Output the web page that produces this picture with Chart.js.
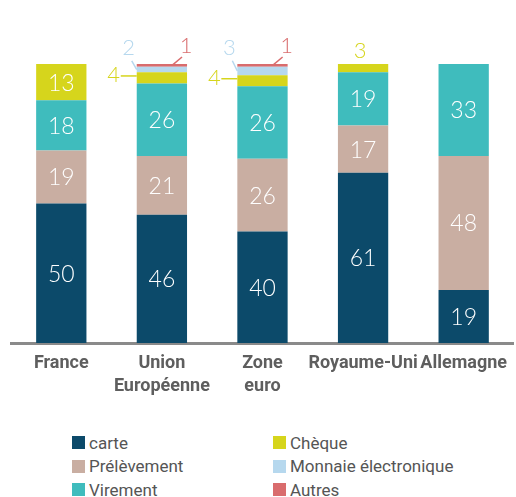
<!DOCTYPE html>
<html lang="fr">
<head>
<meta charset="utf-8">
<script src="https://cdn.jsdelivr.net/npm/chart.js@4.4.1/dist/chart.umd.min.js"></script>
<style>
  html, body { margin: 0; padding: 0; background: #fff; }
  #wrap { position: relative; width: 516px; height: 497px; overflow: hidden; }
  #chartBox { position: absolute; left: 0; top: 0; width: 516px; height: 400px; }
  #legend {
    position: absolute; left: 72px; top: 431px;
    display: grid; grid-template-columns: 201px 240px; grid-auto-flow: column;
    grid-template-rows: repeat(3, 23.5px);
    font-family: Roboto, "DejaVu Sans Condensed", sans-serif;
    font-size: 17px; color: #555;
  }
  #legend div { display: flex; align-items: center; white-space: nowrap; }
  #legend span.sw { width: 13px; height: 13px; margin-right: 4px; display: inline-block; }
</style>
</head>
<body>
<div id="wrap">
  <div id="chartBox"><canvas id="payChart"></canvas></div>
  <div id="legend"></div>
</div>
<script>
// ========================================
// Moyens de paiement scripturaux (%)
// ========================================

const categories = ['France', ['Union', 'Européenne'], ['Zone', 'euro'], 'Royaume-Uni', 'Allemagne'];

const carte       = [50, 46, 40, 61, 19];
const prelevement = [19, 21, 26, 17, 48];
const virement    = [18, 26, 26, 19, 33];
const cheque      = [13, 4, 4, 3, null];
const monnaieElec = [null, 2, 3, null, null];
const autres      = [null, 1, 1, null, null];

const seriesNames  = ['carte', 'Prélèvement', 'Virement', 'Chèque', 'Monnaie électronique', 'Autres'];
const seriesColors = ['#0c4a6a', '#c9aea2', '#3fbcbd', '#d6d51c', '#b6d8ee', '#d96c6d'];
const seriesData   = [carte, prelevement, virement, cheque, monnaieElec, autres];

// small segments labelled outside the bar: category index, dataset index, placement
const callouts = [
  { cat: 1, ds: 3, pos: 'left' },
  { cat: 1, ds: 4, pos: 'upleft' },
  { cat: 1, ds: 5, pos: 'upright' },
  { cat: 2, ds: 3, pos: 'left' },
  { cat: 2, ds: 4, pos: 'upleft' },
  { cat: 2, ds: 5, pos: 'upright' },
  { cat: 3, ds: 3, pos: 'top' }
];

const NUM_FONT = '300 23px Lato, "Open Sans", sans-serif';
const SMALL_FONT = '300 22px Lato, "Open Sans", sans-serif';

// Draw value labels inside the segments and the callouts for the small ones
const valueLabels = {
  id: 'valueLabels',
  afterDatasetsDraw(chart) {
    const ctx = chart.ctx;
    ctx.save();
    ctx.textAlign = 'center';
    ctx.textBaseline = 'middle';

    chart.data.datasets.forEach((ds, d) => {
      const meta = chart.getDatasetMeta(d);
      meta.data.forEach((el, i) => {
        const v = ds.data[i];
        if (v == null) return;
        if (callouts.some(c => c.cat === i && c.ds === d)) return;
        ctx.fillStyle = '#ffffff';
        ctx.font = NUM_FONT;
        ctx.fillText(String(v), el.x, (el.y + el.base) / 2 + 1);
      });
    });

    callouts.forEach(c => {
      const el = chart.getDatasetMeta(c.ds).data[c.cat];
      const v = chart.data.datasets[c.ds].data[c.cat];
      if (!el || v == null) return;
      const left = el.x - el.width / 2;
      const right = el.x + el.width / 2;
      const midY = (el.y + el.base) / 2;
      const color = seriesColors[c.ds];
      ctx.fillStyle = color;
      ctx.strokeStyle = color;
      ctx.lineWidth = 1.5;
      ctx.font = SMALL_FONT;
      ctx.beginPath();
      if (c.pos === 'left') {
        ctx.fillText(String(v), left - 23, midY - 3);
        ctx.moveTo(left - 16, midY - 2);
        ctx.lineTo(left, midY - 2);
      } else if (c.pos === 'upleft') {
        ctx.fillText(String(v), left - 8, el.y - 19);
        ctx.moveTo(left - 5, el.y - 6);
        ctx.lineTo(left, midY);
      } else if (c.pos === 'upright') {
        ctx.fillText(String(v), right - 1, el.y - 18);
        ctx.moveTo(right - 5, el.y - 7);
        ctx.lineTo(right - 15, midY);
      } else if (c.pos === 'top') {
        ctx.fillText(String(v), el.x - 3, el.y - 13);
      }
      ctx.stroke();
    });
    ctx.restore();
  }
};

const chart = new Chart(document.getElementById('payChart'), {
  type: 'bar',
  data: {
    labels: categories,
    datasets: seriesNames.map((name, k) => ({
      label: name,
      data: seriesData[k],
      backgroundColor: seriesColors[k],
      borderWidth: 0,
      barPercentage: 0.5,
      categoryPercentage: 1
    }))
  },
  options: {
    responsive: true,
    maintainAspectRatio: false,
    animation: false,
    layout: { padding: { top: 64, left: 11, right: 0, bottom: 0 } },
    plugins: {
      legend: { display: false },
      tooltip: { enabled: false }
    },
    scales: {
      x: {
        stacked: true,
        grid: { display: false, drawTicks: false },
        border: { display: true, color: '#8a8a8a', width: 3 },
        ticks: {
          color: '#5e5e5e',
          padding: 9,
          maxRotation: 0,
          autoSkip: false,
          font: { family: 'Roboto, "DejaVu Sans Condensed", sans-serif', size: 18, weight: 'bold', lineHeight: 1.28 }
        },
        afterFit: s => { s.height = 57; }
      },
      y: {
        stacked: true,
        display: false,
        min: 0,
        max: 100
      }
    }
  },
  plugins: [valueLabels]
});

// HTML legend in two columns
const legendBox = document.getElementById('legend');
chart.data.datasets.forEach(ds => {
  const item = document.createElement('div');
  item.innerHTML = `<span class="sw" style="background:${ds.backgroundColor}"></span>${ds.label}`;
  legendBox.appendChild(item);
});
</script>
</body>
</html>
